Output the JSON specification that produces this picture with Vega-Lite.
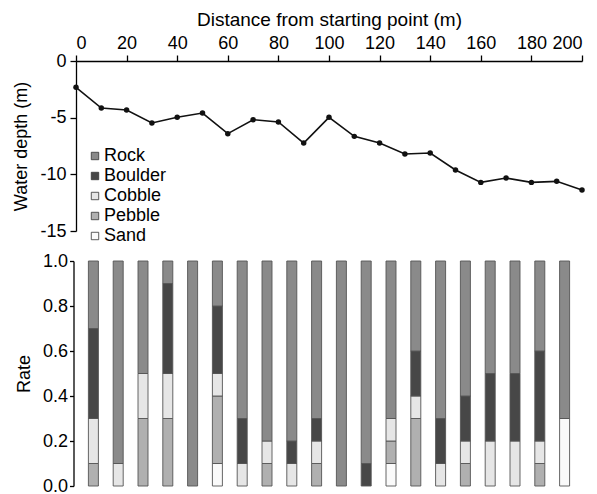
{
  "$schema": "https://vega.github.io/schema/vega-lite/v6.json",
  "padding": {"left": 12, "top": 10, "right": 0, "bottom": 0},
  "spacing": 12,
  "config": {
    "font": "Liberation Sans",
    "view": {"stroke": null},
    "axis": {"grid": false, "domainColor": "#000", "tickColor": "#000", "labelColor": "#000", "titleColor": "#000", "labelFontSize": 18, "titleFontSize": 18, "titleFontWeight": "normal", "domainWidth": 1.3, "tickWidth": 1.3}
  },
  "datasets": {
    "depth": [
      {"distance": 0, "depth": -2.32}, {"distance": 10, "depth": -4.15}, {"distance": 20, "depth": -4.32},
      {"distance": 30, "depth": -5.47}, {"distance": 40, "depth": -4.97}, {"distance": 50, "depth": -4.59},
      {"distance": 60, "depth": -6.41}, {"distance": 70, "depth": -5.18}, {"distance": 80, "depth": -5.38},
      {"distance": 90, "depth": -7.24}, {"distance": 100, "depth": -4.97}, {"distance": 110, "depth": -6.65},
      {"distance": 120, "depth": -7.24}, {"distance": 130, "depth": -8.21}, {"distance": 140, "depth": -8.12},
      {"distance": 150, "depth": -9.62}, {"distance": 160, "depth": -10.71}, {"distance": 170, "depth": -10.33},
      {"distance": 180, "depth": -10.71}, {"distance": 190, "depth": -10.62}, {"distance": 200, "depth": -11.38}
    ],
    "types": [
      {"type": "Sand", "rank": 1}, {"type": "Pebble", "rank": 2}, {"type": "Cobble", "rank": 3}, {"type": "Boulder", "rank": 4}, {"type": "Rock", "rank": 5}
    ],
    "substrate": [
      {"distance": 5, "type": "Pebble", "rate": 0.1}, {"distance": 5, "type": "Cobble", "rate": 0.2}, {"distance": 5, "type": "Boulder", "rate": 0.4}, {"distance": 5, "type": "Rock", "rate": 0.3},
      {"distance": 15, "type": "Cobble", "rate": 0.1}, {"distance": 15, "type": "Rock", "rate": 0.9},
      {"distance": 25, "type": "Pebble", "rate": 0.3}, {"distance": 25, "type": "Cobble", "rate": 0.2}, {"distance": 25, "type": "Rock", "rate": 0.5},
      {"distance": 35, "type": "Pebble", "rate": 0.3}, {"distance": 35, "type": "Cobble", "rate": 0.2}, {"distance": 35, "type": "Boulder", "rate": 0.4}, {"distance": 35, "type": "Rock", "rate": 0.1},
      {"distance": 45, "type": "Rock", "rate": 1.0},
      {"distance": 55, "type": "Sand", "rate": 0.1}, {"distance": 55, "type": "Pebble", "rate": 0.3}, {"distance": 55, "type": "Cobble", "rate": 0.1}, {"distance": 55, "type": "Boulder", "rate": 0.3}, {"distance": 55, "type": "Rock", "rate": 0.2},
      {"distance": 65, "type": "Cobble", "rate": 0.1}, {"distance": 65, "type": "Boulder", "rate": 0.2}, {"distance": 65, "type": "Rock", "rate": 0.7},
      {"distance": 75, "type": "Pebble", "rate": 0.1}, {"distance": 75, "type": "Cobble", "rate": 0.1}, {"distance": 75, "type": "Rock", "rate": 0.8},
      {"distance": 85, "type": "Cobble", "rate": 0.1}, {"distance": 85, "type": "Boulder", "rate": 0.1}, {"distance": 85, "type": "Rock", "rate": 0.8},
      {"distance": 95, "type": "Pebble", "rate": 0.1}, {"distance": 95, "type": "Cobble", "rate": 0.1}, {"distance": 95, "type": "Boulder", "rate": 0.1}, {"distance": 95, "type": "Rock", "rate": 0.7},
      {"distance": 105, "type": "Rock", "rate": 1.0},
      {"distance": 115, "type": "Boulder", "rate": 0.1}, {"distance": 115, "type": "Rock", "rate": 0.9},
      {"distance": 125, "type": "Sand", "rate": 0.1}, {"distance": 125, "type": "Pebble", "rate": 0.1}, {"distance": 125, "type": "Cobble", "rate": 0.1}, {"distance": 125, "type": "Rock", "rate": 0.7},
      {"distance": 135, "type": "Pebble", "rate": 0.3}, {"distance": 135, "type": "Cobble", "rate": 0.1}, {"distance": 135, "type": "Boulder", "rate": 0.2}, {"distance": 135, "type": "Rock", "rate": 0.4},
      {"distance": 145, "type": "Cobble", "rate": 0.1}, {"distance": 145, "type": "Boulder", "rate": 0.2}, {"distance": 145, "type": "Rock", "rate": 0.7},
      {"distance": 155, "type": "Pebble", "rate": 0.1}, {"distance": 155, "type": "Cobble", "rate": 0.1}, {"distance": 155, "type": "Boulder", "rate": 0.2}, {"distance": 155, "type": "Rock", "rate": 0.6},
      {"distance": 165, "type": "Cobble", "rate": 0.2}, {"distance": 165, "type": "Boulder", "rate": 0.3}, {"distance": 165, "type": "Rock", "rate": 0.5},
      {"distance": 175, "type": "Cobble", "rate": 0.2}, {"distance": 175, "type": "Boulder", "rate": 0.3}, {"distance": 175, "type": "Rock", "rate": 0.5},
      {"distance": 185, "type": "Pebble", "rate": 0.1}, {"distance": 185, "type": "Cobble", "rate": 0.1}, {"distance": 185, "type": "Boulder", "rate": 0.4}, {"distance": 185, "type": "Rock", "rate": 0.4},
      {"distance": 195, "type": "Sand", "rate": 0.3}, {"distance": 195, "type": "Rock", "rate": 0.7}
    ]
  },
  "vconcat": [
    {
      "width": 506,
      "height": 170,
      "data": {"name": "depth"},
      "layer": [
        {
          "mark": {"type": "line", "color": "#111", "strokeWidth": 1.6},
          "encoding": {
            "x": {"field": "distance", "type": "quantitative", "scale": {"domain": [0, 200], "nice": false},
              "axis": {"orient": "top", "values": [0,10,20,30,40,50,60,70,80,90,100,110,120,130,140,150,160,170,180,190,200],
                "labelExpr": "datum.value % 20 === 0 ? datum.label : ''",
                "tickSize": {"condition": {"test": "datum.value % 20 === 0", "value": 6}, "value": 3},
                "labelPadding": 3, "titlePadding": 5, "titleFontSize": 19, "title": "Distance from starting point (m)"}},
            "y": {"field": "depth", "type": "quantitative", "scale": {"domain": [-15, 0], "nice": false},
              "axis": {"values": [0, -5, -10, -15], "labelExpr": "'' + datum.value", "tickSize": 6, "labelPadding": 4, "titlePadding": 9, "title": "Water depth (m)"}}
          }
        },
        {
          "mark": {"type": "point", "filled": true, "color": "#111", "size": 30, "opacity": 1},
          "encoding": {
            "x": {"field": "distance", "type": "quantitative"},
            "y": {"field": "depth", "type": "quantitative"}
          }
        }
      ]
    },
    {
      "width": 506,
      "height": 225,
      "data": {"name": "substrate"},
      "transform": [
        {"lookup": "type", "from": {"data": {"name": "types"}, "key": "type", "fields": ["rank"]}}
      ],
      "mark": {"type": "bar", "width": 10, "stroke": "#555", "strokeWidth": 0.9},
      "encoding": {
        "x": {"field": "distance", "type": "quantitative", "scale": {"domain": [0, 200], "nice": false}, "axis": null},
        "y": {"field": "rate", "type": "quantitative", "stack": "zero", "scale": {"domain": [0, 1], "nice": false},
          "axis": {"values": [0, 0.2, 0.4, 0.6, 0.8, 1.0], "format": ".1f", "offset": 2.5, "tickSize": 4, "labelPadding": 2, "titlePadding": 8.5, "title": "Rate"}},
        "order": {"field": "rank", "type": "quantitative", "sort": "ascending"},
        "color": {"field": "type", "type": "nominal",
          "scale": {"domain": ["Rock", "Boulder", "Cobble", "Pebble", "Sand"], "range": ["#8a8a8a", "#474747", "#e6e6e6", "#b0b0b0", "#fafafa"]},
          "legend": {"orient": "none", "legendX": 10, "legendY": 86, "title": null, "symbolType": "square", "symbolSize": 55, "symbolStrokeColor": "#333", "symbolStrokeWidth": 0.8, "labelFontSize": 18, "labelColor": "#000", "rowPadding": 2, "labelOffset": 0}
        }
      }
    }
  ]
}
